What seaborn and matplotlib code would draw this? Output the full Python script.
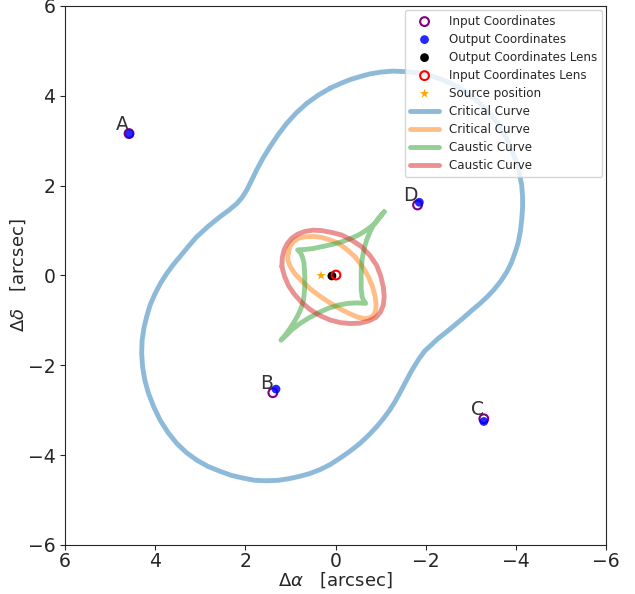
import numpy as np
import pandas as pd
import matplotlib
matplotlib.use("Agg")
import matplotlib.pyplot as plt
import seaborn as sns

sns.set_style("ticks")
plt.rcParams["font.family"] = ["DejaVu Sans"]

# Lensed image positions (arcsec)
image_names = ["A", "B", "C", "D"]
input_x = [4.58, 1.39, -3.29, -1.82]
input_y = [3.16, -2.61, -3.19, 1.57]
output_x = [4.57, 1.32, -3.29, -1.86]
output_y = [3.15, -2.53, -3.25, 1.63]

# Lens centre and source
lens_out_x, lens_out_y = [0.08], [-0.01]
lens_in_x, lens_in_y = [-0.01], [0.01]
source_x, source_y = [0.32], [0.00]

# Outer critical curve
crit1_x = [0.12, -0.10, -0.32, -0.55, -0.77, -1.02, -1.28, -1.54, -1.80, -2.06,
           -2.32, -2.58, -2.83, -3.06, -3.28, -3.48, -3.65, -3.79, -3.91, -4.01,
           -4.08, -4.13, -4.15, -4.15, -4.13, -4.10, -4.05, -3.98, -3.90, -3.80,
           -3.67, -3.52, -3.37, -3.21, -3.02, -2.83, -2.65, -2.47, -2.28, -2.12,
           -1.98, -1.87, -1.76, -1.65, -1.54, -1.43, -1.32, -1.20, -1.06, -0.91,
           -0.73, -0.54, -0.35, -0.17, 0.12, 0.34, 0.57, 0.79, 1.01, 1.27,
           1.53, 1.79, 2.05, 2.31, 2.56, 2.83, 3.08, 3.31, 3.52, 3.72,
           3.89, 4.03, 4.15, 4.23, 4.28, 4.30, 4.29, 4.25, 4.19, 4.11,
           4.00, 3.88, 3.74, 3.60, 3.45, 3.27, 3.08, 2.83, 2.56, 2.37,
           2.19, 2.07, 1.97, 1.86, 1.75, 1.61, 1.45, 1.27, 1.08, 0.87,
           0.64, 0.39, 0.12]
crit1_y = [4.17, 4.27, 4.36, 4.43, 4.49, 4.53, 4.55, 4.54, 4.51, 4.46,
           4.38, 4.27, 4.13, 3.96, 3.76, 3.54, 3.31, 3.06, 2.79, 2.53,
           2.27, 2.01, 1.75, 1.50, 1.24, 0.98, 0.72, 0.50, 0.28, 0.08,
           -0.12, -0.31, -0.47, -0.62, -0.78, -0.95, -1.10, -1.25, -1.40, -1.55,
           -1.68, -1.83, -2.00, -2.19, -2.40, -2.61, -2.81, -3.00, -3.19, -3.37,
           -3.56, -3.74, -3.89, -4.02, -4.21, -4.32, -4.41, -4.47, -4.52, -4.56,
           -4.57, -4.56, -4.51, -4.45, -4.36, -4.25, -4.11, -3.94, -3.74, -3.49,
           -3.22, -2.93, -2.62, -2.33, -2.03, -1.73, -1.44, -1.17, -0.92, -0.65,
           -0.40, -0.17, 0.05, 0.24, 0.42, 0.64, 0.86, 1.09, 1.31, 1.45,
           1.60, 1.74, 1.90, 2.12, 2.35, 2.61, 2.87, 3.14, 3.39, 3.62,
           3.83, 4.01, 4.17]

# Inner critical curve
crit2_x = [1.05, 1.01, 0.94, 0.82, 0.68, 0.50, 0.31, 0.12, -0.06, -0.25,
           -0.43, -0.59, -0.73, -0.82, -0.88, -0.90, -0.89, -0.85, -0.77, -0.65,
           -0.50, -0.29, -0.08, 0.14, 0.36, 0.57, 0.76, 0.91, 1.01, 1.06, 1.05]
crit2_y = [0.49, 0.64, 0.75, 0.83, 0.86, 0.87, 0.85, 0.79, 0.72, 0.58,
           0.42, 0.21, -0.03, -0.25, -0.47, -0.64, -0.78, -0.88, -0.94, -0.96,
           -0.93, -0.84, -0.73, -0.60, -0.45, -0.29, -0.11, 0.05, 0.21, 0.36, 0.49]

# Astroid caustic
caus1_x = [-1.08, -0.98, -0.88, -0.70, -0.51, -0.33, -0.14, 0.08, 0.31, 0.50,
           0.68, 0.84, 0.77, 0.73, 0.70, 0.69, 0.68, 0.68, 0.69, 0.71,
           0.76, 0.83, 0.92, 1.01, 1.11, 1.21, 1.09, 0.97, 0.79, 0.60,
           0.38, 0.16, -0.06, -0.28, -0.48, -0.67, -0.62, -0.59, -0.57, -0.57,
           -0.57, -0.59, -0.63, -0.69, -0.76, -0.84, -0.95, -1.08]
caus1_y = [1.42, 1.29, 1.16, 1.02, 0.90, 0.82, 0.75, 0.69, 0.64, 0.60,
           0.58, 0.57, 0.50, 0.40, 0.28, 0.12, -0.04, -0.17, -0.36, -0.55,
           -0.72, -0.88, -1.04, -1.18, -1.32, -1.44, -1.33, -1.21, -1.07, -0.95,
           -0.83, -0.73, -0.66, -0.62, -0.61, -0.62, -0.55, -0.47, -0.30, -0.10,
           0.13, 0.35, 0.58, 0.79, 0.96, 1.12, 1.27, 1.42]

# Radial caustic
caus2_x = [1.19, 1.18, 1.14, 1.07, 0.97, 0.84, 0.68, 0.50, 0.31, 0.09,
           -0.14, -0.37, -0.58, -0.76, -0.91, -1.00, -1.06, -1.08, -1.06, -1.00,
           -0.90, -0.74, -0.55, -0.33, -0.11, 0.12, 0.35, 0.56, 0.75, 0.91,
           1.04, 1.13, 1.19]
caus2_y = [0.20, 0.40, 0.57, 0.71, 0.83, 0.92, 0.98, 1.01, 1.00, 0.96,
           0.90, 0.78, 0.64, 0.45, 0.23, 0.00, -0.25, -0.47, -0.66, -0.81,
           -0.93, -1.01, -1.06, -1.07, -1.05, -0.99, -0.89, -0.76, -0.60, -0.42,
           -0.23, -0.02, 0.20]

fig = plt.figure(figsize=(6.35, 5.94), dpi=100)
ax = fig.add_axes([0.1024, 0.0825, 0.8519, 0.9074])

sns.scatterplot(x=input_x, y=input_y, ax=ax, s=40, facecolor="none",
                edgecolor="purple", linewidth=1.5, label="Input Coordinates")
sns.scatterplot(x=output_x, y=output_y, ax=ax, s=40, color="blue",
                edgecolor="none", alpha=0.85, label="Output Coordinates")
sns.scatterplot(x=lens_out_x, y=lens_out_y, ax=ax, s=40, color="black",
                edgecolor="none", label="Output Coordinates Lens")
sns.scatterplot(x=lens_in_x, y=lens_in_y, ax=ax, s=40, facecolor="none",
                edgecolor="red", linewidth=1.5, label="Input Coordinates Lens")
sns.scatterplot(x=source_x, y=source_y, ax=ax, s=50, marker="*",
                color="orange", edgecolor="none", label="Source position")

curves = [(crit1_x, crit1_y, "tab:blue", "Critical Curve"),
          (crit2_x, crit2_y, "tab:orange", "Critical Curve"),
          (caus1_x, caus1_y, "tab:green", "Caustic Curve"),
          (caus2_x, caus2_y, "tab:red", "Caustic Curve")]
for cx, cy, col, lab in curves:
    sns.lineplot(x=cx, y=cy, ax=ax, sort=False, estimator=None, color=col,
                 alpha=0.5, linewidth=3.5, label=lab,
                 solid_joinstyle="round", solid_capstyle="round")

for name, px, py in zip(image_names, input_x, input_y):
    ax.text(px, py, name, ha="right", va="bottom", fontsize=13.5, color="#333333")

ax.set_xlim(6, -6)
ax.set_ylim(-6, 6)
ax.set_xticks([6, 4, 2, 0, -2, -4, -6])
ax.set_yticks([-6, -4, -2, 0, 2, 4, 6])
ax.tick_params(labelsize=13.5)
ax.tick_params(axis="x", pad=1.5)
ax.set_xlabel(r"$\Delta\alpha$   [arcsec]", fontsize=13, labelpad=0)
ax.set_ylabel(r"$\Delta\delta$   [arcsec]", fontsize=13, labelpad=0)

ax.legend(loc="upper right", fontsize=8.6, labelspacing=0.42, handlelength=2.5,
          borderaxespad=0.33, framealpha=0.8)

fig.savefig("out.png", dpi=100)
